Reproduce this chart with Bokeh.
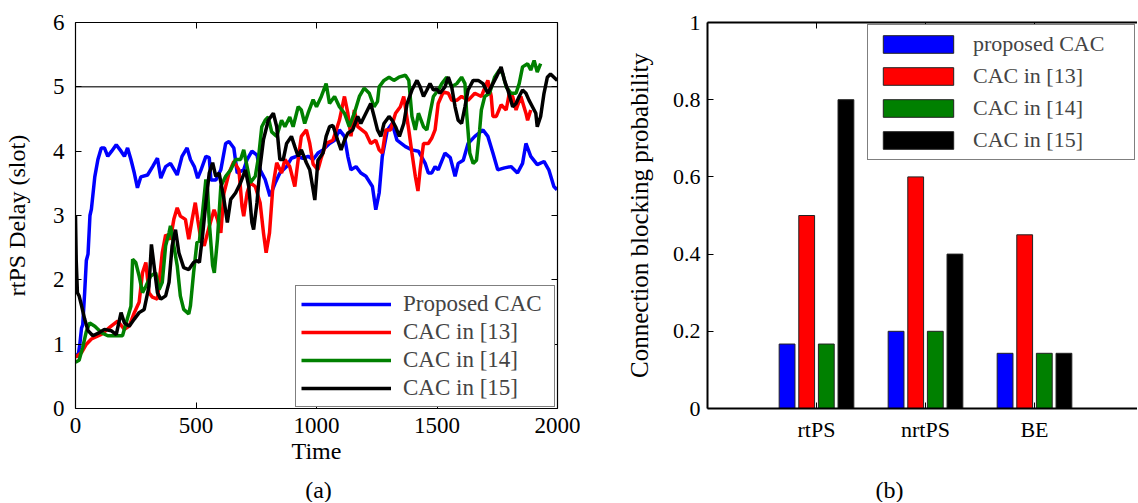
from bokeh.plotting import figure
from bokeh.models import Range1d, LinearAxis, FixedTicker, Span, Legend, LegendItem, Label
from bokeh.layouts import row, column
from bokeh.embed import file_html
from bokeh.resources import INLINE

FONT = "Liberation Serif"

# ---------------- data: panel (a) rtPS delay vs time ----------------
delay_bound = 5

proposed_t = [0, 10, 18, 25, 30, 38, 45, 52, 60, 66, 80, 93, 107, 120, 134, 150, 169, 189, 203, 216,
              230, 244, 257, 271, 299, 320, 340, 354, 374, 394, 422, 442, 463, 477, 493, 507, 520, 541,
              555, 562, 582, 603, 623, 637, 657, 671, 698, 712, 732, 753, 766, 787, 807, 828, 848, 876,
              896, 917, 944, 965, 986, 1006, 1027, 1054, 1075, 1095, 1116, 1130, 1143, 1164, 1184, 1205,
              1232, 1246, 1260, 1273, 1294, 1314, 1334, 1369, 1396, 1423, 1451, 1464, 1478, 1492, 1505,
              1533, 1555, 1575, 1588, 1609, 1629, 1657, 1691, 1711, 1732, 1752, 1780, 1807, 1834, 1855,
              1869, 1889, 1916, 1944, 1964, 1985, 1998]
proposed_v = [0.85, 0.8, 1.0, 1.25, 1.3, 1.8, 2.3, 2.4, 3.0, 3.1, 3.6, 3.87, 4.05, 4.05, 3.92, 4.0, 4.1, 4.0,
              3.92, 4.05, 3.87, 3.66, 3.43, 3.6, 3.63, 3.76, 3.89, 3.58, 3.76, 3.81, 3.63, 3.92, 4.05, 3.87,
              3.76, 3.58, 3.7, 3.92, 3.9, 3.55, 3.55, 3.71, 4.12, 4.15, 4.05, 3.66, 3.71, 3.87, 4.0, 3.94,
              3.71, 3.56, 3.3, 3.5, 3.66, 3.76, 3.89, 3.92, 3.89, 3.92, 3.87, 3.97, 4.02, 4.12, 4.17, 4.33,
              4.23, 3.92, 3.71, 3.76, 3.66, 3.61, 3.45, 3.09, 3.35, 3.92, 4.33, 4.43, 4.17, 4.07, 4.02, 4.0,
              3.81, 3.66, 3.66, 3.76, 3.71, 3.97, 3.9, 3.61, 3.81, 3.86, 4.12, 4.23, 4.33, 4.23, 3.97, 3.71,
              3.74, 3.76, 3.66, 3.81, 4.12, 3.92, 3.79, 3.84, 3.71, 3.45, 3.4]

cac13_t = [0, 25, 45, 66, 107, 148, 175, 203, 223, 244, 264, 278, 292, 305, 319, 340, 360, 374, 394, 408,
           422, 435, 456, 470, 484, 497, 507, 520, 534, 555, 575, 589, 603, 616, 637, 657, 678, 691, 698,
           712, 725, 746, 766, 780, 791, 805, 819, 835, 855, 869, 889, 910, 924, 937, 958, 972, 986, 1006,
           1020, 1040, 1068, 1095, 1116, 1130, 1143, 1157, 1171, 1205, 1225, 1246, 1260, 1273, 1287, 1307,
           1328, 1348, 1362, 1383, 1396, 1410, 1421, 1430, 1444, 1464, 1478, 1492, 1505, 1526, 1547, 1561,
           1582, 1602, 1629, 1657, 1684, 1711, 1725, 1732, 1746, 1766, 1787, 1800, 1814, 1828, 1848, 1869,
           1876, 1889]
cac13_v = [0.8, 0.87, 1.0, 1.08, 1.15, 1.28, 1.36, 1.23, 1.28, 1.49, 1.65, 2.11, 2.27, 1.8, 1.73, 1.7, 2.42,
           2.7, 2.63, 2.94, 3.12, 2.99, 2.94, 2.63, 2.94, 3.2, 2.94, 2.63, 2.53, 2.83, 3.09, 2.94, 2.73, 3.35,
           3.66, 3.84, 3.71, 3.14, 2.99, 3.35, 3.51, 3.45, 3.2, 2.73, 2.42, 2.73, 3.45, 3.82, 3.66, 3.87, 3.76,
           3.45, 3.87, 4.23, 4.33, 4.12, 3.8, 3.71, 3.9, 4.12, 4.17, 4.48, 4.85, 4.59, 4.23, 4.64, 4.38, 4.28,
           4.12, 4.17, 4.02, 3.97, 4.33, 4.33, 4.59, 4.69, 4.85, 4.33, 3.97, 3.61, 3.38, 3.71, 4.12, 4.12, 4.2,
           4.33, 4.74, 4.92, 4.9, 4.79, 4.79, 4.85, 4.79, 4.9, 4.85, 5.1, 4.85, 4.54, 4.54, 4.72, 4.64, 4.9,
           4.85, 4.64, 4.85, 4.59, 4.48, 4.64]

cac14_t = [0, 15, 30, 45, 59, 80, 107, 134, 175, 195, 210, 230, 237, 250, 264, 278, 292, 312, 333, 347, 360,
           374, 388, 394, 408, 422, 435, 449, 470, 477, 490, 504, 514, 527, 541, 548, 555, 569, 576, 589, 603,
           623, 644, 664, 685, 698, 712, 725, 746, 760, 773, 787, 800, 814, 835, 855, 869, 889, 903, 924, 937,
           951, 965, 986, 1000, 1020, 1040, 1054, 1075, 1095, 1116, 1136, 1157, 1178, 1198, 1219, 1239, 1253,
           1260, 1280, 1301, 1321, 1342, 1369, 1383, 1396, 1410, 1423, 1444, 1458, 1471, 1485, 1505, 1520,
           1540, 1561, 1582, 1602, 1616, 1623, 1636, 1650, 1664, 1677, 1684, 1698, 1718, 1739, 1759, 1773,
           1787, 1807, 1828, 1841, 1855, 1876, 1889, 1903, 1916, 1930]
cac14_v = [0.72, 0.75, 0.95, 1.2, 1.33, 1.28, 1.18, 1.13, 1.13, 1.13, 1.33, 1.59, 2.32, 2.27, 2.06, 1.8, 1.9,
           2.06, 2.11, 1.85, 1.96, 2.53, 2.73, 2.84, 2.53, 2.22, 1.75, 1.54, 1.47, 1.6, 2.11, 2.58, 2.6, 3.04,
           3.56, 3.4, 2.9, 2.22, 2.11, 2.63, 3.45, 3.61, 3.71, 3.87, 3.87, 4.02, 3.76, 3.51, 3.61, 3.92, 4.38,
           4.48, 4.53, 4.3, 4.23, 4.48, 4.38, 4.53, 4.38, 4.69, 4.64, 4.43, 4.59, 4.8, 4.69, 4.85, 5.05, 4.74,
           4.85, 4.69, 4.59, 4.38, 4.59, 4.85, 4.98, 4.9, 4.69, 4.77, 5.0, 5.1, 5.15, 5.1, 5.15, 5.18, 5.1,
           4.54, 4.33, 4.59, 4.38, 4.33, 4.59, 4.85, 4.95, 5.05, 5.15, 5.0, 5.05, 5.15, 5.05, 4.59, 3.97, 3.81,
           3.86, 4.33, 4.64, 4.85, 4.9, 5.15, 5.26, 5.2, 5.0, 4.9, 4.9, 5.05, 5.31, 5.36, 5.26, 5.41, 5.23, 5.36]

cac15_t = [0, 3, 8, 15, 25, 38, 52, 72, 99, 120, 148, 169, 189, 203, 223, 244, 264, 285, 305, 315, 326, 340,
           354, 374, 388, 401, 415, 429, 449, 470, 490, 504, 514, 527, 541, 555, 569, 582, 596, 616, 630, 644,
           664, 685, 705, 719, 732, 739, 753, 766, 780, 800, 821, 835, 848, 862, 876, 896, 910, 924, 937, 958,
           972, 986, 993, 1006, 1027, 1040, 1054, 1068, 1088, 1102, 1116, 1130, 1150, 1171, 1184, 1205, 1225,
           1239, 1253, 1267, 1280, 1301, 1314, 1328, 1344, 1362, 1376, 1396, 1417, 1430, 1444, 1458, 1471,
           1485, 1498, 1512, 1533, 1547, 1561, 1575, 1588, 1602, 1616, 1629, 1650, 1671, 1691, 1711, 1725,
           1746, 1766, 1780, 1794, 1814, 1828, 1841, 1855, 1869, 1882, 1896, 1910, 1916, 1930, 1944, 1958,
           1971, 1985, 1999]
cac15_v = [3.0, 2.3, 1.8, 1.75, 1.6, 1.39, 1.21, 1.13, 1.18, 1.23, 1.21, 1.15, 1.49, 1.33, 1.28, 1.39, 1.49,
           1.54, 1.9, 2.55, 2.22, 1.8, 1.7, 1.75, 1.96, 2.53, 2.78, 2.42, 2.19, 2.16, 2.27, 2.3, 2.27, 2.68,
           3.2, 3.66, 3.82, 3.61, 3.66, 3.25, 2.89, 3.25, 3.35, 3.51, 3.71, 3.45, 2.89, 2.78, 3.2, 3.76, 4.18,
           4.48, 4.59, 4.38, 3.87, 3.87, 4.12, 4.23, 4.07, 3.92, 4.02, 3.82, 3.71, 3.4, 3.24, 3.86, 3.97, 4.23,
           4.38, 4.4, 4.17, 4.02, 4.17, 4.28, 4.33, 4.54, 4.43, 4.59, 4.74, 4.54, 4.33, 4.23, 4.43, 4.54, 4.48,
           4.38, 4.23, 4.43, 4.74, 4.95, 5.1, 5.0, 4.85, 4.95, 5.05, 4.95, 4.97, 4.9, 5.0, 5.15, 5.0, 4.69,
           4.48, 4.43, 4.69, 4.95, 5.1, 5.1, 5.05, 4.9, 5.0, 5.15, 5.31, 5.1, 4.95, 4.69, 4.74, 4.85, 4.95,
           4.9, 4.79, 4.69, 4.59, 4.38, 4.54, 4.9, 5.15, 5.2, 5.15, 5.1]

delay_x_ticks = [0, 500, 1000, 1500, 2000]
delay_y_ticks = [0, 1, 2, 3, 4, 5, 6]

# ---------------- data: panel (b) connection blocking probability ----------------
classes = ["rtPS", "nrtPS", "BE"]
block_proposed = [0.167, 0.2, 0.143]
block_cac13 = [0.5, 0.6, 0.45]
block_cac14 = [0.167, 0.2, 0.143]
block_cac15 = [0.8, 0.4, 0.143]
block_y_ticks = [0, 0.2, 0.4, 0.6, 0.8, 1]
block_y_labels = ["0", "0.2", "0.4", "0.6", "0.8", "1"]

captions = ["(a)", "(b)"]

BLUE, RED, GREEN, BLACK = "#0000FF", "#FF0000", "#008000", "#000000"


def style_axis(ax, tick_font="22px", label_font="24px", lw=1.2):
    ax.axis_line_color = "black"
    ax.axis_line_width = lw
    ax.major_tick_in = 6
    ax.major_tick_out = 0
    ax.minor_tick_in = 0
    ax.minor_tick_out = 0
    ax.major_tick_line_color = "black"
    ax.major_tick_line_width = 1
    ax.major_label_text_font = FONT
    ax.major_label_text_font_size = tick_font
    ax.major_label_text_color = "black"
    ax.axis_label_text_font = FONT
    ax.axis_label_text_font_size = label_font
    ax.axis_label_text_font_style = "normal"
    ax.axis_label_text_color = "black"


def blank_axis(ticks, lw=1.2):
    ax = LinearAxis(ticker=FixedTicker(ticks=ticks))
    style_axis(ax, lw=lw)
    ax.major_label_text_font_size = "1px"
    ax.major_label_text_color = None
    ax.major_label_standoff = 0
    ax.axis_label_standoff = 0
    return ax


# ---------------- panel (a) ----------------
pa = figure(width=580, height=472, x_range=Range1d(0, 2000), y_range=Range1d(0, 6),
            output_backend="svg", toolbar_location=None,
            min_border_left=72, min_border_right=23, min_border_top=22, min_border_bottom=64)
pa.grid.visible = False
pa.outline_line_color = None
pa.background_fill_color = "white"
pa.border_fill_color = "white"

pa.add_layout(Span(location=delay_bound, dimension="width", line_color="#444444",
                   line_width=1.5, level="underlay"))

r0 = pa.line(proposed_t, proposed_v, line_color=BLUE, line_width=3.5)
r1 = pa.line(cac13_t, cac13_v, line_color=RED, line_width=3.5)
r2 = pa.line(cac14_t, cac14_v, line_color=GREEN, line_width=3.5)
r3 = pa.line(cac15_t, cac15_v, line_color=BLACK, line_width=3.5)

xa = pa.below[0]
ya = pa.left[0]
xa.ticker = FixedTicker(ticks=delay_x_ticks)
ya.ticker = FixedTicker(ticks=delay_y_ticks)
style_axis(xa, tick_font="23px")
style_axis(ya, tick_font="23px")
xa.axis_label = "Time"
ya.axis_label = "rtPS Delay (slot)"
xa.major_label_standoff = 9
xa.axis_label_standoff = 2
ya.major_label_standoff = 11
ya.axis_label_standoff = 20
pa.add_layout(blank_axis(delay_x_ticks), "above")
pa.add_layout(blank_axis(delay_y_ticks), "right")

leg_a = Legend(items=[LegendItem(label="Proposed CAC", renderers=[r0]),
                      LegendItem(label="CAC in [13]", renderers=[r1]),
                      LegendItem(label="CAC in [14]", renderers=[r2]),
                      LegendItem(label="CAC in [15]", renderers=[r3])],
               location=(220, 1))
leg_a.label_text_font = FONT
leg_a.label_text_font_size = "23px"
leg_a.glyph_width = 90
leg_a.glyph_height = 20
leg_a.label_standoff = 12
leg_a.padding = 5
leg_a.spacing = 2
leg_a.margin = 0
leg_a.border_line_color = "black"
leg_a.border_line_width = 1.2
leg_a.background_fill_alpha = 1
leg_a.label_width = 146
pa.add_layout(leg_a)

# ---------------- panel (b) ----------------
pb = figure(width=557, height=472, x_range=Range1d(0, 3.945), y_range=Range1d(0, 1),
            output_backend="svg", toolbar_location=None,
            min_border_left=127, min_border_right=0, min_border_top=22, min_border_bottom=62)
pb.grid.visible = False
pb.outline_line_color = None
pb.background_fill_color = "white"
pb.border_fill_color = "white"

positions = [i + 1 for i in range(len(classes))]
bw = 0.145
bars = []
for vals, col, off in [(block_proposed, BLUE, -0.27), (block_cac13, RED, -0.09),
                       (block_cac14, GREEN, 0.09), (block_cac15, BLACK, 0.27)]:
    bars.append(pb.vbar(x=[p + off for p in positions], top=vals, width=bw, bottom=0,
                        fill_color=col, line_color="#222222", line_width=1))

xb = pb.below[0]
yb = pb.left[0]
xb.ticker = FixedTicker(ticks=positions)
xb.major_label_overrides = {p: c for p, c in zip(positions, classes)}
yb.ticker = FixedTicker(ticks=block_y_ticks)
yb.major_label_overrides = {t: l for t, l in zip(block_y_ticks, block_y_labels)}
style_axis(xb, lw=2)
style_axis(yb, label_font="25px", lw=2)
yb.axis_label = "Connection blocking probability"
xb.major_label_standoff = 8
yb.major_label_standoff = 7
yb.axis_label_standoff = 17
pb.add_layout(blank_axis(positions, lw=2), "above")

leg_b = Legend(items=[LegendItem(label="proposed CAC", renderers=[bars[0]]),
                      LegendItem(label="CAC in [13]", renderers=[bars[1]]),
                      LegendItem(label="CAC in [14]", renderers=[bars[2]]),
                      LegendItem(label="CAC in [15]", renderers=[bars[3]])],
               location="top_right")
leg_b.label_text_font = FONT
leg_b.label_text_font_size = "22px"
leg_b.glyph_width = 88
leg_b.glyph_height = 22
leg_b.label_standoff = 11
leg_b.padding = 6
leg_b.spacing = 6
leg_b.margin = 2
leg_b.border_line_color = "black"
leg_b.border_line_width = 1.2
leg_b.background_fill_alpha = 1
leg_b.label_width = 155
pb.add_layout(leg_b)

# ---------------- caption strip "(a)" / "(b)" ----------------
cap = figure(width=1137, height=30, x_range=Range1d(0, 1137), y_range=Range1d(0, 30),
             output_backend="svg", toolbar_location=None, x_axis_type=None, y_axis_type=None,
             min_border=0)
cap.grid.visible = False
cap.outline_line_color = None
cap.border_fill_color = "white"
cap.background_fill_color = "white"
for txt, cx in zip(captions, [318, 889]):
    cap.add_layout(Label(x=cx, y=13, text=txt, text_font=FONT, text_font_size="24px",
                         text_align="center", text_baseline="middle", text_color="black"))

layout = column(row(pa, pb), cap)
open("out.html", "w").write(file_html(layout, INLINE))
